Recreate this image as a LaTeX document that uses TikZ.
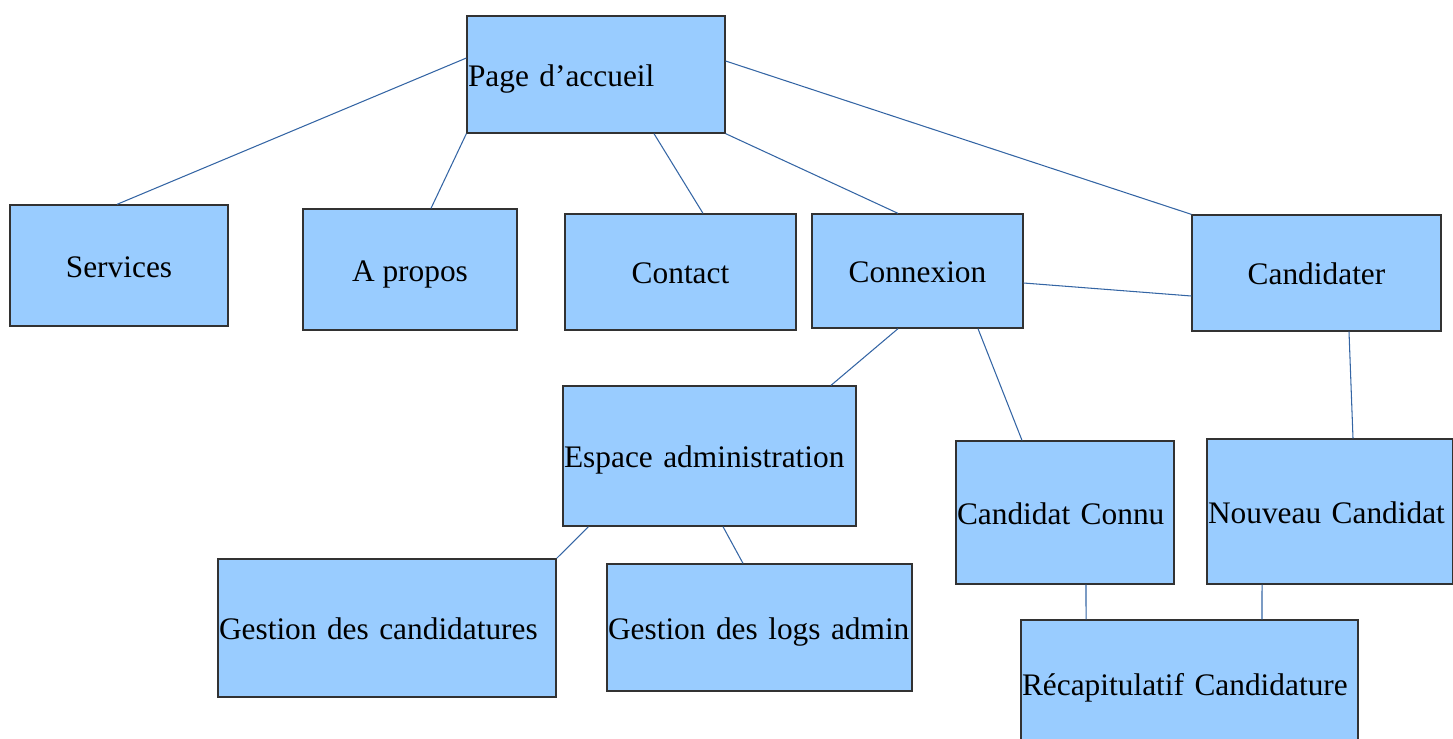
\documentclass[tikz,border=0pt]{standalone}
\usepackage{fontspec}
\setmainfont{Liberation Serif}
\usepackage{tikz}

\definecolor{boxfill}{RGB}{153,204,255}
\definecolor{boxline}{RGB}{50,50,50}
\definecolor{linkblue}{RGB}{52,101,164}

\begin{document}
\begin{tikzpicture}[x=0.02cm, y=-0.02cm,
    page/.style={rectangle, draw=boxline, fill=boxfill, line width=0.75pt,
                 inner xsep=0.02cm, inner ysep=0pt, align=center,
                 text height=0.5cm, text depth=0.04cm,
                 font=\fontsize{17.85}{22}\selectfont},
    leftpage/.style={page, align=left},
    link/.style={draw=linkblue, line width=0.6pt}]
    \clip (0,0) rectangle (1453,738);

    % Nodes {accueil, services, apropos, etc}
    \node [leftpage, text width=5.12cm, minimum height=2.34cm]   (accueil)    at (596,74.5)    {\mbox{Page d’accueil}};
    \node [page, minimum width=4.36cm, minimum height=2.42cm]    (services)   at (119,265.5)   {Services};
    \node [page, minimum width=4.28cm, minimum height=2.42cm]    (apropos)    at (410,269.5)   {A propos};
    \node [page, minimum width=4.62cm, minimum height=2.32cm]    (contact)    at (680.5,272)   {Contact};
    \node [page, minimum width=4.22cm, minimum height=2.28cm]    (connexion)  at (917.5,271)   {Connexion};
    \node [page, minimum width=4.98cm, minimum height=2.32cm]    (candidater) at (1316.5,273)  {Candidater};
    \node [leftpage, text width=5.82cm, minimum height=2.80cm]   (espace)     at (709.5,456)   {\mbox{Espace administration}};
    \node [leftpage, text width=4.32cm, minimum height=2.86cm]   (connu)      at (1065,512.5)  {\mbox{Candidat Connu}};
    \node [leftpage, text width=4.88cm, minimum height=2.90cm]   (nouveau)    at (1330,511.5)  {\mbox{Nouveau Candidat}};
    \node [leftpage, text width=6.72cm, minimum height=2.76cm]   (gcand)      at (387,628)     {\mbox{Gestion des candidatures}};
    \node [leftpage, text width=6.06cm, minimum height=2.54cm]   (glogs)      at (759.5,627.5) {\mbox{Gestion des logs admin}};
    \node [leftpage, text width=6.70cm, minimum height=2.56cm]   (recap)      at (1189.5,684)  {\mbox{Récapitulatif Candidature}};

    % Paths
    \path [link] ([yshift=0.33cm]accueil.west)       edge ([xshift=-0.04cm]services.north);
    \path [link] (accueil.south west)                edge ([xshift=0.42cm]apropos.north);
    \path [link] ([xshift=1.16cm]accueil.south)      edge ([xshift=0.45cm]contact.north);
    \path [link] (accueil.south east)                edge ([xshift=-0.39cm]connexion.north);
    \path [link] ([yshift=0.27cm]accueil.east)       edge (candidater.north west);
    \path [link] ([yshift=-0.24cm]connexion.east)    edge ([yshift=-0.46cm]candidater.west);
    \path [link] ([xshift=-0.39cm]connexion.south)   edge ([xshift=2.43cm]espace.north);
    \path [link] ([xshift=1.21cm]connexion.south)    edge ([xshift=-0.86cm]connu.north);
    \path [link] ([xshift=0.65cm]candidater.south)   edge ([xshift=0.46cm]nouveau.north);
    \path [link] ([xshift=0.52cm]espace.south west)  edge (gcand.north east);
    \path [link] ([xshift=0.27cm]espace.south)       edge ([xshift=-0.33cm]glogs.north);
    \path [link] ([xshift=0.42cm]connu.south)        edge ([xshift=-2.07cm]recap.north);
    \path [link] ([xshift=-1.36cm]nouveau.south)     edge ([xshift=1.45cm]recap.north);

\end{tikzpicture}
\end{document}
